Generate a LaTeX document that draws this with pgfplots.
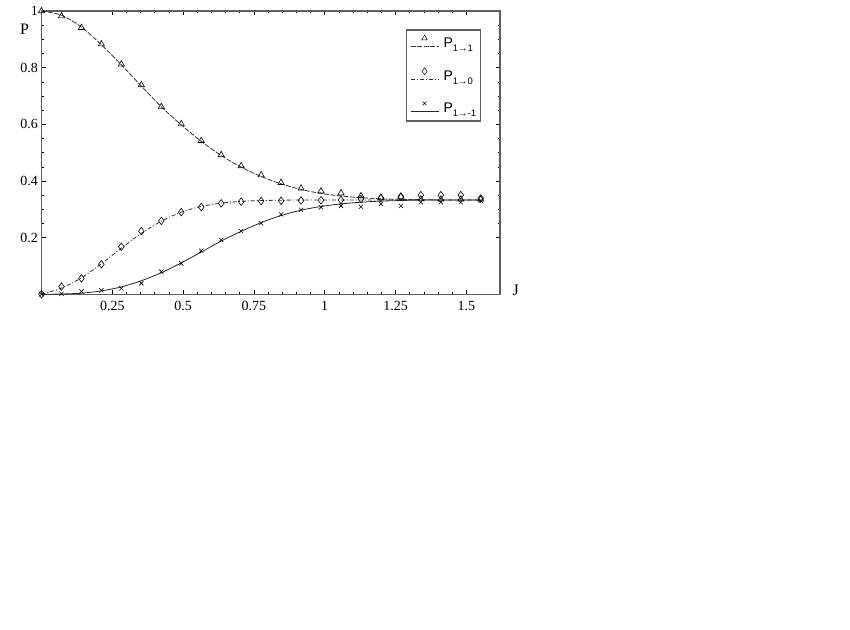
\documentclass[border=0pt]{standalone}
\usepackage{fontspec}
\setmainfont{Liberation Serif}
\newfontfamily\lsans{Liberation Sans}
\usepackage{pgfplots}
\pgfplotsset{compat=1.18}
\usepackage{pgfplotstable}

\pgfplotstableread{
J      p11    p10    pm1
0      1.000  0.000  0.000
0.0705 0.982  0.027  0.002
0.141  0.941  0.056  0.010
0.2115 0.883  0.106  0.014
0.282  0.812  0.168  0.021
0.3525 0.739  0.223  0.039
0.423  0.662  0.259  0.080
0.4935 0.601  0.290  0.109
0.564  0.542  0.308  0.154
0.6345 0.492  0.321  0.192
0.705  0.453  0.327  0.223
0.7755 0.421  0.329  0.251
0.846  0.394  0.330  0.282
0.9165 0.374  0.331  0.298
0.987  0.364  0.332  0.307
1.0575 0.357  0.333  0.312
1.128  0.347  0.336  0.309
1.1985 0.342  0.340  0.319
1.269  0.345  0.345  0.312
1.3395 0.336  0.350  0.325
1.41   0.335  0.350  0.325
1.4805 0.335  0.350  0.325
1.551  0.335  0.338  0.330
}\markers

\pgfplotstableread{
J      p11    p10    pm1
0      1.000  0.000  0.000
0.0705 0.985  0.022  0.001
0.141  0.943  0.058  0.004
0.2115 0.881  0.108  0.012
0.282  0.810  0.163  0.026
0.3525 0.735  0.215  0.048
0.423  0.662  0.258  0.076
0.4935 0.598  0.290  0.111
0.564  0.540  0.310  0.149
0.6345 0.490  0.322  0.188
0.705  0.449  0.328  0.222
0.7755 0.416  0.331  0.253
0.846  0.390  0.332  0.278
0.9165 0.370  0.333  0.297
0.987  0.356  0.333  0.310
1.0575 0.347  0.333  0.319
1.128  0.341  0.333  0.325
1.1985 0.337  0.333  0.329
1.269  0.335  0.333  0.331
1.3395 0.334  0.333  0.333
1.41   0.333  0.333  0.333
1.4805 0.333  0.333  0.333
1.551  0.333  0.333  0.333
}\curves

\begin{document}
\begin{tikzpicture}
\path[use as bounding box] (0,0) rectangle (850pt,629pt);
\begin{axis}[
  at={(41.5pt,334.7pt)}, anchor=south west,
  scale only axis, width=458.5pt, height=283.3pt,
  xmin=0, xmax=1.619, ymin=0, ymax=1,
  xtick={0.25,0.5,0.75,1,1.25,1.5},
  ytick={0.2,0.4,0.6,0.8,1},
  minor x tick num=4, minor y tick num=3,
  tick align=inside,
  major tick length=4pt, minor tick length=2.5pt,
  tick style={black, line width=0.6pt},
  axis line style={gray!75!black, line width=1.3pt},
  /pgf/number format/assume math mode=true,
  tick label style={font=\fontsize{14}{16}\selectfont},
  xticklabel style={yshift=-3pt},
  xlabel={J}, ylabel={P},
  label style={font=\fontsize{16}{18}\selectfont},
  xlabel style={at={(rel axis cs:1,0)}, anchor=base west, xshift=9pt, yshift=-1pt},
  ylabel style={rotate=-90, at={(rel axis cs:0,1)}, anchor=north east, xshift=-9pt, yshift=-9pt},
  legend style={at={(0.958,0.935)}, anchor=north east, draw=gray!75!black, line width=1.2pt,
    fill=white, font=\lsans\fontsize{14}{16}\selectfont, row sep=17pt,
    inner xsep=2pt, inner ysep=5pt, cells={anchor=west}},
  legend image code/.code={
    \path[draw=none, fill=none] (-2pt,0pt) -- (31pt,0pt);
    \draw[#1, mark=none] (0pt,-3pt) -- (28pt,-3pt);
    \draw[#1, draw=none] plot coordinates {(14pt,5pt)};
  },
]
\addlegendimage{black!80, line width=0.8pt, dash pattern=on 5pt off 1.5pt, mark=triangle, mark size=3.2pt,
  mark options={solid, black, line width=0.5pt}}
\addlegendentry{P\raisebox{-4pt}{\fontsize{9.5}{10}\selectfont 1→1}}
\addlegendimage{black!80, line width=0.8pt, dash pattern=on 4pt off 2pt on 1pt off 2pt, mark=diamond, mark size=3.5pt,
  mark options={solid, black, line width=0.5pt}}
\addlegendentry{P\raisebox{-4pt}{\fontsize{9.5}{10}\selectfont 1→0}}
\addlegendimage{black!85, line width=0.8pt, mark=x, mark size=2.6pt,
  mark options={solid, black, line width=0.5pt}}
\addlegendentry{P\raisebox{-4pt}{\fontsize{9.5}{10}\selectfont 1→-1}}
\addplot[black!80, line width=0.8pt, dash pattern=on 5pt off 1.5pt, smooth, forget plot] table[x=J, y=p11] \curves;
\addplot[black!80, line width=0.8pt, dash pattern=on 4pt off 2pt on 1pt off 2pt, smooth, forget plot] table[x=J, y=p10] \curves;
\addplot[black!85, line width=0.8pt, smooth, forget plot] table[x=J, y=pm1] \curves;
\addplot[only marks, mark=triangle, mark size=3.6pt, mark options={black, line width=0.6pt}, forget plot] table[x=J, y=p11] \markers;
\addplot[only marks, mark=diamond, mark size=3.8pt, mark options={black, line width=0.6pt}, forget plot] table[x=J, y=p10] \markers;
\addplot[only marks, mark=x, mark size=3pt, mark options={black, line width=0.6pt}, forget plot] table[x=J, y=pm1] \markers;
\end{axis}
\end{tikzpicture}
\end{document}
